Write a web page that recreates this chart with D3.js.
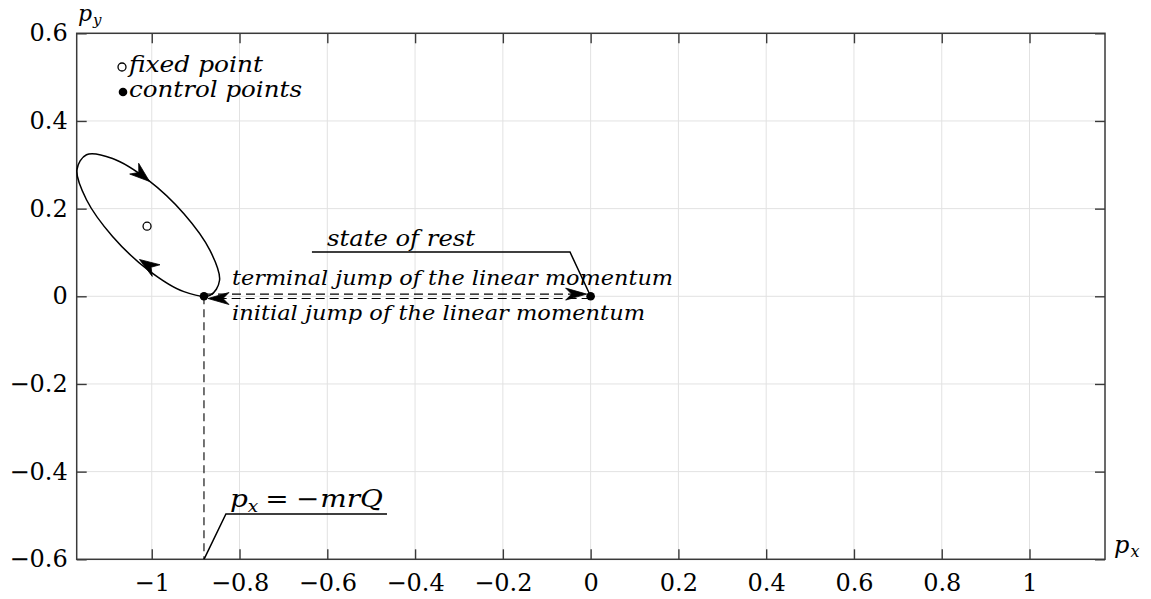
<!DOCTYPE html>
<html><head><meta charset="utf-8">
<script src="https://cdn.jsdelivr.net/npm/d3@7"></script>
<style>
html,body{margin:0;padding:0;background:#fff;}
svg{display:block;}
.it{font-family:"DejaVu Serif","Liberation Serif",serif;font-style:italic;fill:#000;}
.tk text{font-family:"DejaVu Serif","Liberation Serif",serif;fill:#000;}
</style></head>
<body>
<svg id="c" width="1151" height="599"></svg>
<script>
// ---------- data ----------
const xTicks = [-1, -0.8, -0.6, -0.4, -0.2, 0, 0.2, 0.4, 0.6, 0.8, 1];
const xTickLabels = ["\u22121", "\u22120.8", "\u22120.6", "\u22120.4", "\u22120.2", "0", "0.2", "0.4", "0.6", "0.8", "1"];
const yTicks = [-0.6, -0.4, -0.2, 0, 0.2, 0.4, 0.6];
const yTickLabels = ["\u22120.6", "\u22120.4", "\u22120.2", "0", "0.2", "0.4", "0.6"];
const xDomain = [-1.171, 1.172];
const yDomain = [-0.6, 0.6];

// closed trajectory around the fixed point
const orbitX = [-0.8455, -0.8673, -0.9267, -1.008, -1.0893, -1.1487, -1.1705, -1.1487, -1.0893, -1.008, -0.9267, -0.8673];
const orbitY = [0.0366, 0.0021, 0.0106, 0.0598, 0.1365, 0.2202, 0.2884, 0.3229, 0.3144, 0.2652, 0.1885, 0.1048];
// direction arrows on the trajectory: [tailX, tailY, tipX, tipY]
const orbitArrows = [[-1.035, 0.287, -1.005, 0.262], [-0.995, 0.062, -1.028, 0.084]];

const fixedPoint = [-1.0107, 0.160];
const controlX = [-0.881, 0];
const controlY = [0, 0];

// jumps of the linear momentum: [fromX, toX], y = 0
const initialJump = [-0.881, 0];
const terminalJump = [0, -0.881];

const legendLabels = ["fixed point", "control points"];
const stateLeaderX = [-0.635, -0.047, 0];
const stateLeaderY = [0.101, 0.101, 0];
const pxLeaderX = [-0.881, -0.831, -0.464];
const pxLeaderY = [-0.6, -0.4967, -0.4967];

// ---------- layout ----------
const L = 76.7, R = 1105, T = 33.3, B = 559.3;
const x = d3.scaleLinear().domain(xDomain).range([L, R]);
const y = d3.scaleLinear().domain(yDomain).range([B, T]);
const svg = d3.select("#c");
const SERIF = '"DejaVu Serif","Liberation Serif",serif';

// grid
const grid = svg.append("g").attr("stroke", "#e2e2e2").attr("stroke-width", 1);
grid.selectAll("line.gx").data(xTicks).join("line")
  .attr("x1", d => x(d)).attr("x2", d => x(d)).attr("y1", T).attr("y2", B);
grid.selectAll("line.gy").data(yTicks).join("line")
  .attr("y1", d => y(d)).attr("y2", d => y(d)).attr("x1", L).attr("x2", R);

// axes (ticks inward)
const axColor = "#3a3a3a";
function styleAx(g){ g.select(".domain").remove(); g.selectAll(".tick line").attr("stroke", axColor).attr("stroke-width", 1.4); }
svg.append("g").attr("class","tk").attr("transform",`translate(0,${B})`)
  .call(d3.axisBottom(x).tickValues(xTicks).tickSize(-10).tickPadding(15).tickFormat((d,i)=>xTickLabels[i]))
  .call(styleAx);
svg.append("g").attr("class","tk").attr("transform",`translate(${L},0)`)
  .call(d3.axisLeft(y).tickValues(yTicks).tickSize(-10).tickPadding(9).tickFormat((d,i)=>yTickLabels[i]))
  .call(styleAx);
svg.append("g").attr("transform",`translate(0,${T})`)
  .call(d3.axisTop(x).tickValues(xTicks).tickSize(-10).tickFormat(""))
  .call(styleAx);
svg.append("g").attr("transform",`translate(${R},0)`)
  .call(d3.axisRight(y).tickValues(yTicks).tickSize(-10).tickFormat(""))
  .call(styleAx);
svg.selectAll(".tk").attr("font-family",SERIF).attr("font-size",24);
svg.selectAll(".tk text").attr("font-family",SERIF).attr("font-size",24).attr("fill","#000");

svg.append("rect").attr("x",L).attr("y",T).attr("width",R-L).attr("height",B-T)
  .attr("fill","none").attr("stroke",axColor).attr("stroke-width",1.5);

// clip
svg.append("clipPath").attr("id","clip").append("rect").attr("x",L-1).attr("y",T).attr("width",R-L+1).attr("height",B-T);
const plot = svg.append("g").attr("clip-path","url(#clip)");

// arrowhead helper
function head(g, tx, ty, fx, fy, len, hw, notch){
  const a = Math.atan2(ty-fy, tx-fx);
  const ca = Math.cos(a), sa = Math.sin(a);
  const pt = (u,v)=>[tx + u*ca - v*sa, ty + u*sa + v*ca];
  const p = [pt(0,0), pt(-len, hw), pt(-len+notch, 0), pt(-len, -hw)];
  g.append("path").attr("d","M"+p.map(q=>q.join(",")).join("L")+"Z").attr("fill","#000").attr("stroke","#000").attr("stroke-width",0.8).attr("stroke-linejoin","miter");
}

// orbit
const orbit = orbitX.map((v,i)=>[x(v), y(orbitY[i])]);
plot.append("path").attr("d", d3.line().curve(d3.curveCatmullRomClosed.alpha(0.5))(orbit))
  .attr("fill","none").attr("stroke","#000").attr("stroke-width",1.5);
orbitArrows.forEach(a=>head(plot, x(a[2]), y(a[3]), x(a[0]), y(a[1]), 20, 7, 6));

// vertical dashed line at px = -mrQ
plot.append("line").attr("x1",x(controlX[0])).attr("x2",x(controlX[0])).attr("y1",y(controlY[0])).attr("y2",B)
  .attr("stroke","#000").attr("stroke-width",1.1).attr("stroke-dasharray","8,5");

// jump arrows
const off = 2.2;
[[initialJump,-off],[terminalJump,off]].forEach(([j,o])=>{
  const x1 = x(j[0]), x2 = x(j[1]), yy = y(0)+o;
  const dir = Math.sign(x2-x1);
  plot.append("line").attr("x1",x1).attr("x2",x2-dir*16).attr("y1",yy).attr("y2",yy)
    .attr("stroke","#000").attr("stroke-width",1.2).attr("stroke-dasharray","9,5");
  head(plot, x2-dir*4, yy, x1, yy, 21, 6, 6);
});

// leaders
const ln = d3.line();
plot.append("path").attr("d", ln(stateLeaderX.map((v,i)=>[x(v),y(stateLeaderY[i])])))
  .attr("fill","none").attr("stroke","#000").attr("stroke-width",1.5);
plot.append("path").attr("d", ln(pxLeaderX.map((v,i)=>[x(v),y(pxLeaderY[i])])))
  .attr("fill","none").attr("stroke","#000").attr("stroke-width",1.5);

// points
plot.append("circle").attr("cx",x(fixedPoint[0])).attr("cy",y(fixedPoint[1])).attr("r",4)
  .attr("fill","#fff").attr("stroke","#000").attr("stroke-width",1.3);
plot.selectAll("circle.cp").data(controlX).join("circle").attr("class","cp")
  .attr("cx",d=>x(d)).attr("cy",(d,i)=>y(controlY[i])).attr("r",4.3).attr("fill","#000");

// legend
svg.append("circle").attr("cx",122).attr("cy",67).attr("r",4).attr("fill","#fff").attr("stroke","#000").attr("stroke-width",1.3);
svg.append("circle").attr("cx",123).attr("cy",92).attr("r",4.3).attr("fill","#000");
const txt = (s, tx, ty, fs, w) => svg.append("text").attr("class","it").attr("x",tx).attr("y",ty)
  .attr("font-size",fs).attr("textLength",w).attr("lengthAdjust","spacingAndGlyphs").text(s);
txt(legendLabels[0], 129, 72, 23, 134);
txt(legendLabels[1], 129, 97, 23, 173);

// annotations
txt("state of rest", 327, 245.5, 23, 148);
txt("terminal jump of the linear momentum", 232, 285, 20, 441);
txt("initial jump of the linear momentum", 232, 320, 20, 413);

// p_x = -mrQ
const eq = svg.append("text").attr("x",230).attr("y",507).attr("font-family",SERIF).attr("font-size",24).attr("fill","#000")
  .attr("textLength",153).attr("lengthAdjust","spacingAndGlyphs");
eq.append("tspan").attr("font-style","italic").text("p");
eq.append("tspan").attr("font-style","italic").attr("font-size",16).attr("dy",5).text("x");
eq.append("tspan").attr("dy",-5).attr("dx",6).text("=");
eq.append("tspan").attr("dx",6).text("\u2212");
eq.append("tspan").attr("font-style","italic").attr("dx",1).text("mrQ");

// axis labels
const py = svg.append("text").attr("x",78).attr("y",21).attr("class","it").attr("font-size",22);
py.append("tspan").text("p");
py.append("tspan").attr("font-size",15).attr("dy",4).attr("dx",1).text("y");
const pxl = svg.append("text").attr("x",1114).attr("y",553).attr("class","it").attr("font-size",24);
pxl.append("tspan").text("p");
pxl.append("tspan").attr("font-size",16).attr("dy",4).attr("dx",1).text("x");
</script>
</body></html>
